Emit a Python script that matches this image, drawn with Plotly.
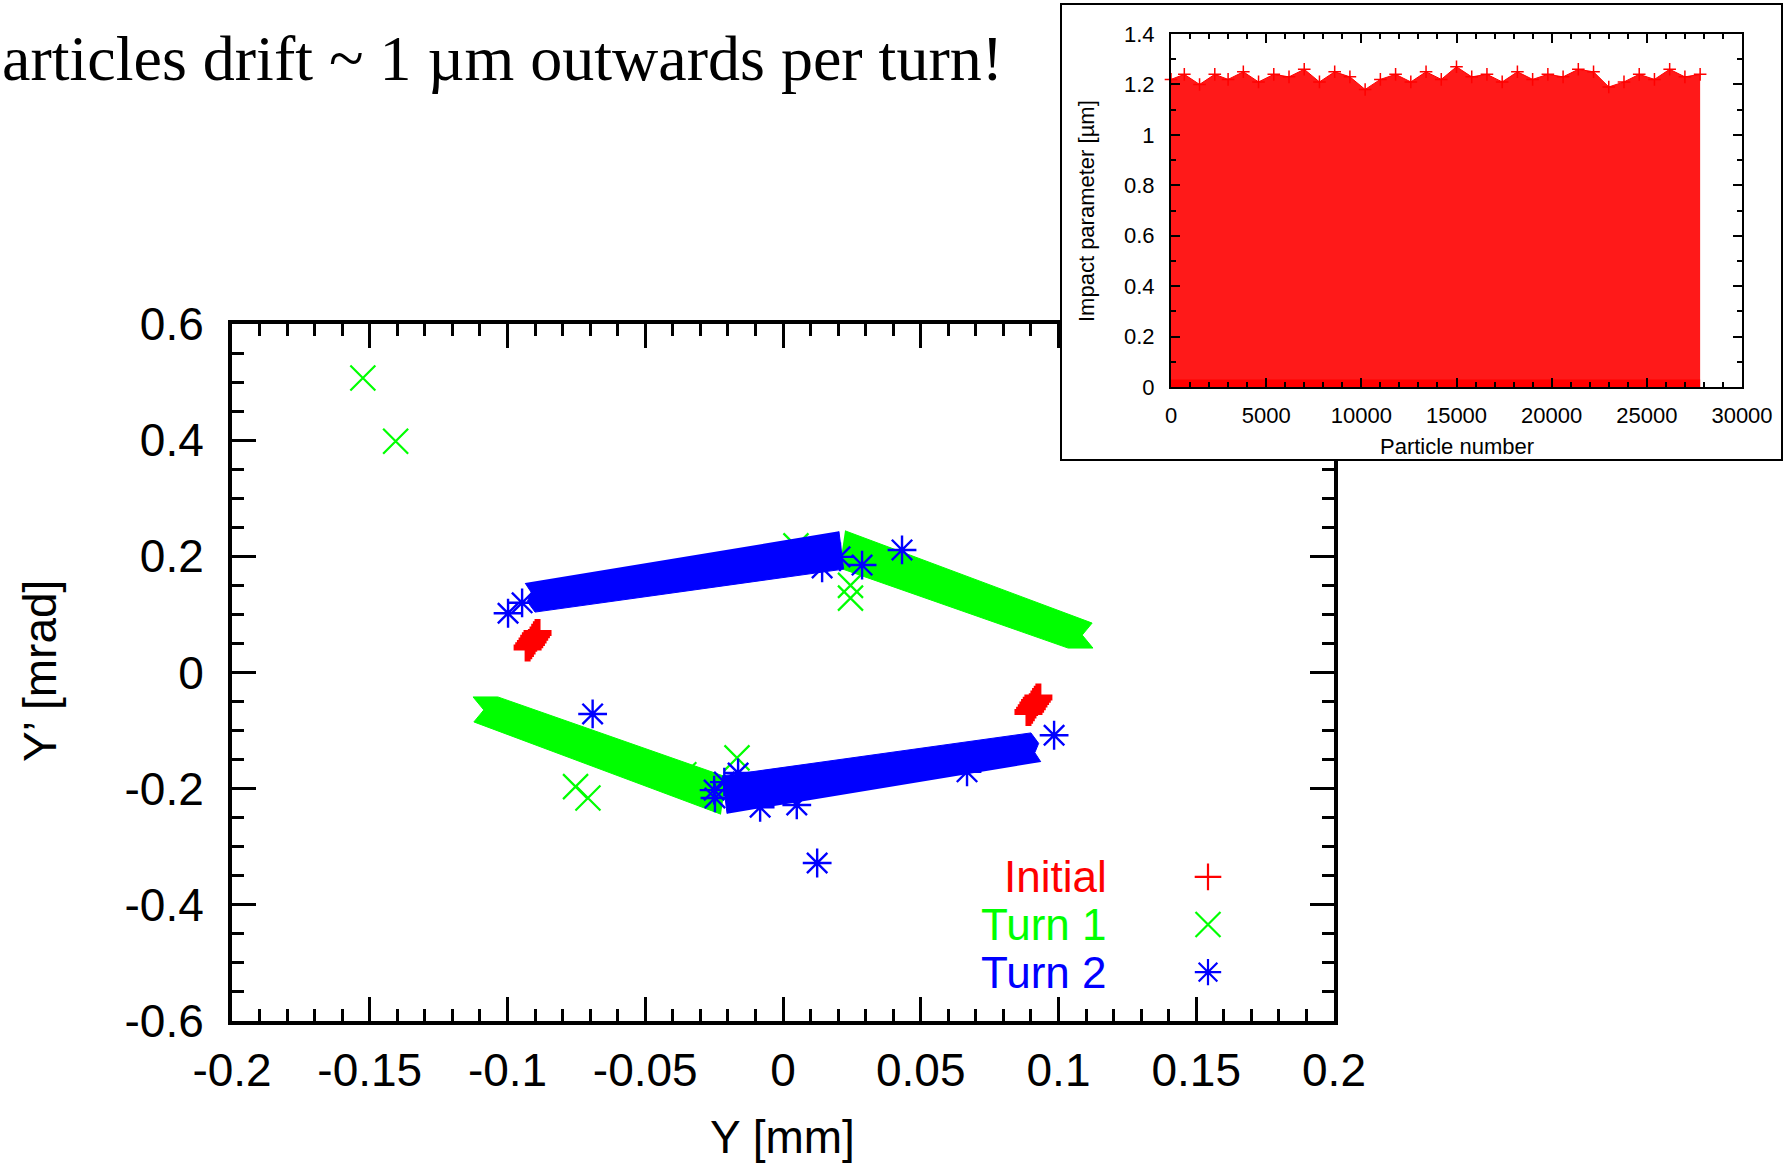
import plotly.graph_objects as go

W, H = 1783, 1164

RED = "#ff0000"
GREEN = "#00ff00"
BLUE = "#0000ff"
FONT = "Liberation Sans"

# ---------------- phase-space data: Y [mm] vs Y' [mrad] ----------------
# Turn 1 particle bands (outline of the dense region); None separates the two bands
turn1_band_y = [0.0225, 0.1122, 0.1086, 0.1125, 0.1035, 0.0205, None,
                -0.0225, -0.1122, -0.1086, -0.1125, -0.1035, -0.0205]
turn1_band_yp = [0.244, 0.0851, 0.0645, 0.0421, 0.0421, 0.180, None,
                 -0.244, -0.0851, -0.0645, -0.0421, -0.0421, -0.180]

# Turn 2 particle bands
turn2_band_y = [-0.0936, -0.0914, -0.0928, -0.0900, 0.0220, 0.0203, None,
                0.0936, 0.0914, 0.0928, 0.0900, -0.0220, -0.0203]
turn2_band_yp = [0.154, 0.138, 0.122, 0.104, 0.178, 0.243, None,
                 -0.154, -0.138, -0.122, -0.104, -0.178, -0.243]

# Initial distribution (two small clusters)
initial_y = [-0.0891, -0.0897, -0.0903, -0.0909, -0.0915, -0.0921, -0.0927,
             0.0891, 0.0897, 0.0903, 0.0909, 0.0915, 0.0921, 0.0927]
initial_yp = [0.068, 0.064, 0.060, 0.055, 0.051, 0.047, 0.043,
              -0.068, -0.064, -0.060, -0.055, -0.051, -0.047, -0.043]

# Isolated Turn 1 particles
turn1_pts_y = [-0.1525, -0.1406, 0.0245, 0.0245, 0.0047, -0.0753, -0.0708, -0.0167, -0.0360]
turn1_pts_yp = [0.507, 0.398, 0.150, 0.128, 0.218, -0.1965, -0.2162, -0.147, -0.176]

# Isolated Turn 2 particles
turn2_pts_y = [-0.0998, -0.0947, 0.0142, 0.0207, 0.0287, 0.0432, -0.0691, -0.0250,
               -0.0247, -0.0213, -0.0163, 0.0050, -0.0083, 0.0124, 0.0668, 0.0984]
turn2_pts_yp = [0.102, 0.120, 0.180, 0.199, 0.185, 0.211, -0.0714, -0.2025,
                -0.216, -0.1888, -0.173, -0.228, -0.232, -0.328, -0.171, -0.108]

main_x_ticks = [-0.2, -0.15, -0.1, -0.05, 0, 0.05, 0.1, 0.15, 0.2]
main_x_labels = ["-0.2", "-0.15", "-0.1", "-0.05", "0", "0.05", "0.1", "0.15", "0.2"]
main_y_ticks = [-0.6, -0.4, -0.2, 0, 0.2, 0.4, 0.6]
main_y_labels = ["-0.6", "-0.4", "-0.2", "0", "0.2", "0.4", "0.6"]

# ---------------- inset: impact parameter per particle ----------------
# upper envelope of the impact parameter cloud [um]
inset_particle = [0, 700, 1500, 2300, 3000, 3800, 4600, 5400, 6200, 7000, 7800, 8600,
                  9400, 10200, 11000, 11800, 12600, 13400, 14200, 15000, 15800, 16600,
                  17400, 18200, 19000, 19800, 20600, 21400, 22200, 23000, 23800, 24600,
                  25400, 26200, 27000, 27800]
inset_impact = [1.22, 1.24, 1.20, 1.24, 1.22, 1.25, 1.21, 1.24, 1.23, 1.26, 1.21, 1.25,
                1.23, 1.18, 1.22, 1.24, 1.21, 1.25, 1.22, 1.27, 1.23, 1.24,
                1.21, 1.25, 1.22, 1.24, 1.23, 1.26, 1.25, 1.19, 1.21, 1.24,
                1.22, 1.26, 1.23, 1.24]
# particles with zero impact parameter
zero_particle = [0, 27800]
zero_impact = [0, 0]

inset_x_ticks = [0, 5000, 10000, 15000, 20000, 25000, 30000]
inset_x_labels = ["0", "5000", "10000", "15000", "20000", "25000", "30000"]
inset_y_ticks = [0, 0.2, 0.4, 0.6, 0.8, 1.0, 1.2, 1.4]
inset_y_labels = ["0", "0.2", "0.4", "0.6", "0.8", "1", "1.2", "1.4"]

# legend rows
legend_names = ["Initial", "Turn 1", "Turn 2"]
legend_colors = [RED, GREEN, BLUE]
legend_symbols = ["cross-thin", "x-thin", "asterisk"]
legend_sizes = [19, 25, 22]
legend_rows = [1, 2, 3]

fig = go.Figure()

# main phase-space plot
fig.add_trace(go.Scatter(x=initial_y, y=initial_yp, mode="markers",
                         marker=dict(symbol="cross-thin", size=20, color=RED,
                                     line=dict(color=RED, width=6)),
                         xaxis="x", yaxis="y", hoverinfo="skip", showlegend=False))
fig.add_trace(go.Scatter(x=turn1_band_y, y=turn1_band_yp, mode="lines", fill="toself",
                         fillcolor=GREEN, line=dict(color=GREEN, width=1),
                         xaxis="x", yaxis="y", hoverinfo="skip", showlegend=False))
fig.add_trace(go.Scatter(x=turn1_pts_y, y=turn1_pts_yp, mode="markers",
                         marker=dict(symbol="x-thin", size=25, color=GREEN,
                                     line=dict(color=GREEN, width=2.2)),
                         xaxis="x", yaxis="y", hoverinfo="skip", showlegend=False))
fig.add_trace(go.Scatter(x=turn2_band_y, y=turn2_band_yp, mode="lines", fill="toself",
                         fillcolor=BLUE, line=dict(color=BLUE, width=1),
                         xaxis="x", yaxis="y", hoverinfo="skip", showlegend=False))
fig.add_trace(go.Scatter(x=turn2_pts_y, y=turn2_pts_yp, mode="markers",
                         marker=dict(symbol="asterisk", size=24, color=BLUE,
                                     line=dict(color=BLUE, width=2.4)),
                         xaxis="x", yaxis="y", hoverinfo="skip", showlegend=False))

# opaque frame behind the inset
fig.add_trace(go.Scatter(x=[], y=[], xaxis="x2", yaxis="y2", hoverinfo="skip",
                         showlegend=False))

# inset cloud
fig.add_trace(go.Scatter(x=inset_particle, y=inset_impact, mode="lines+markers",
                         fill="tozeroy", fillcolor="rgba(255,0,0,0.9)",
                         line=dict(color=RED, width=1),
                         marker=dict(symbol="cross-thin", size=9, color=RED,
                                     line=dict(color=RED, width=1.5)),
                         xaxis="x3", yaxis="y3", hoverinfo="skip", showlegend=False,
                         cliponaxis=False))
fig.add_trace(go.Scatter(x=zero_particle, y=zero_impact, mode="lines",
                         line=dict(color=RED, width=15),
                         xaxis="x3", yaxis="y3", hoverinfo="skip", showlegend=False,
                         cliponaxis=False))

# legend keys
for name, col, sym, sz, row in zip(legend_names, legend_colors, legend_symbols,
                                   legend_sizes, legend_rows):
    fig.add_trace(go.Scatter(x=[0.5], y=[row], mode="markers",
                             marker=dict(symbol=sym, size=sz, color=col,
                                         line=dict(color=col, width=2.2)),
                             xaxis="x4", yaxis="y4", hoverinfo="skip",
                             showlegend=False))

tickfont_main = dict(family=FONT, size=46, color="black")
tickfont_inset = dict(family=FONT, size=22, color="black")

main_axis = dict(showline=True, linewidth=4, linecolor="black", mirror="allticks",
                 ticks="inside", ticklen=24, tickwidth=3, tickcolor="black",
                 showgrid=False, zeroline=False, tickfont=tickfont_main,
                 tickmode="array", automargin=False)
inset_axis = dict(showline=True, linewidth=2, linecolor="black", mirror="allticks",
                  ticks="inside", ticklen=9, tickwidth=1.5, tickcolor="black",
                  showgrid=False, zeroline=False, tickfont=tickfont_inset,
                  tickmode="array", automargin=False)

fig.update_layout(
    width=W, height=H, autosize=False,
    margin=dict(l=0, r=0, t=0, b=0, pad=0, autoexpand=False),
    paper_bgcolor="white", plot_bgcolor="white",
    showlegend=False,
    xaxis=dict(main_axis, domain=[232 / W, 1334 / W], range=[-0.2, 0.2],
               tickvals=main_x_ticks, ticktext=main_x_labels, anchor="y",
               ticklabelstandoff=6,
               minor=dict(tickmode="linear", tick0=0, dtick=0.01, ticks="inside",
                          ticklen=12, tickwidth=3, tickcolor="black")),
    yaxis=dict(main_axis, domain=[1 - 1021 / H, 1 - 324 / H], range=[-0.6, 0.6],
               tickvals=main_y_ticks, ticktext=main_y_labels, anchor="x",
               ticklabelstandoff=15,
               minor=dict(tickmode="linear", tick0=0, dtick=0.05, ticks="inside",
                          ticklen=12, tickwidth=3, tickcolor="black")),
    xaxis2=dict(domain=[1062 / W, 1781 / W], range=[0, 1], anchor="y2",
                showline=True, linewidth=2, linecolor="black", mirror=True,
                ticks="", showticklabels=False, showgrid=False, zeroline=False,
                automargin=False),
    yaxis2=dict(domain=[1 - 459 / H, 1 - 5 / H], range=[0, 1], anchor="x2",
                showline=True, linewidth=2, linecolor="black", mirror=True,
                ticks="", showticklabels=False, showgrid=False, zeroline=False,
                automargin=False),
    xaxis3=dict(inset_axis, domain=[1171 / W, 1742 / W], range=[0, 30000],
                tickvals=inset_x_ticks, ticktext=inset_x_labels, anchor="y3",
                ticklabelstandoff=8,
                minor=dict(tickmode="linear", tick0=0, dtick=1000, ticks="inside",
                           ticklen=5, tickwidth=1.5, tickcolor="black")),
    yaxis3=dict(inset_axis, domain=[1 - 387 / H, 1 - 34 / H], range=[0, 1.4],
                tickvals=inset_y_ticks, ticktext=inset_y_labels, anchor="x3",
                ticklabelstandoff=10,
                minor=dict(tickmode="linear", tick0=0, dtick=0.1, ticks="inside",
                           ticklen=5, tickwidth=1.5, tickcolor="black")),
    xaxis4=dict(domain=[1184 / W, 1232 / W], range=[0, 1], anchor="y4",
                visible=False, automargin=False),
    yaxis4=dict(domain=[1 - 996 / H, 1 - 853 / H], range=[3.5, 0.5], anchor="x4",
                visible=False, automargin=False),
)

annotations = [
    dict(text="articles drift ~ 1 \u00b5m outwards per turn!", x=0, y=1 - 58 / H,
         xref="paper", yref="paper", xanchor="left", yanchor="middle",
         showarrow=False, font=dict(family="Liberation Serif", size=64, color="black")),
    dict(text="Y [mm]", x=782 / W, y=1 - 1137 / H, xref="paper", yref="paper",
         xanchor="center", yanchor="middle", showarrow=False,
         font=dict(family=FONT, size=46, color="black")),
    dict(text="Y\u2019 [mrad]", x=40 / W, y=1 - 671 / H, xref="paper", yref="paper",
         xanchor="center", yanchor="middle", textangle=-90, showarrow=False,
         font=dict(family=FONT, size=46, color="black")),
    dict(text="Particle number", x=1457 / W, y=1 - 447 / H, xref="paper", yref="paper",
         xanchor="center", yanchor="middle", showarrow=False,
         font=dict(family=FONT, size=22, color="black")),
    dict(text="Impact parameter [\u00b5m]", x=1086 / W, y=1 - 211 / H, xref="paper",
         yref="paper", xanchor="center", yanchor="middle", textangle=-90,
         showarrow=False, font=dict(family=FONT, size=22, color="black")),
]
for name, col, row in zip(legend_names, legend_colors, legend_rows):
    annotations.append(dict(text=name, x=1109 / W, y=row, xref="paper", yref="y4",
                            xanchor="right", yanchor="middle", showarrow=False,
                            font=dict(family=FONT, size=44, color=col)))
fig.update_layout(annotations=annotations)

fig.write_html("out.html")
